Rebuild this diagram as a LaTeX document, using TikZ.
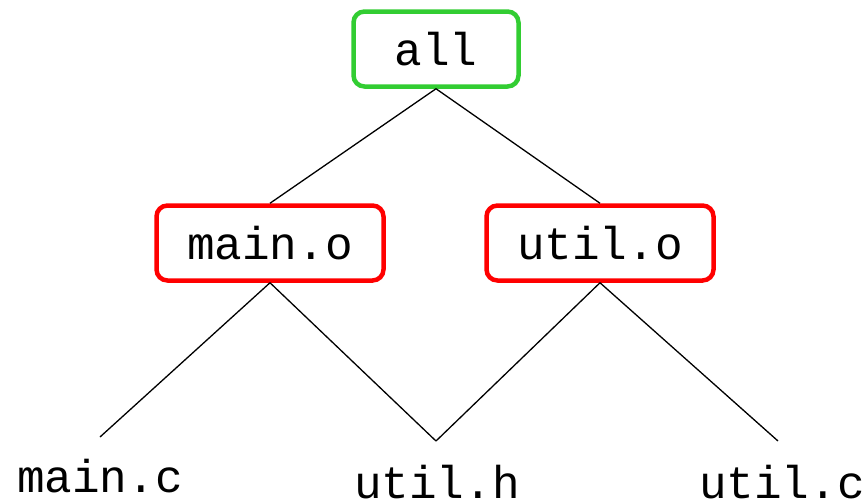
\documentclass[tikz,border=0pt]{standalone}
\usepackage{fontspec}
\setmonofont{Liberation Mono}
\definecolor{okgreen}{RGB}{50,205,50}
\definecolor{badred}{RGB}{255,0,0}
\begin{document}
\begin{tikzpicture}[x=1pt,y=-1pt,line width=1.3pt,every node/.style={font=\ttfamily\fontsize{46}{50}\selectfont,inner sep=0pt},
  target/.style={draw,line width=4.5pt,rounded corners=11pt,minimum width=165pt,minimum height=75pt},
  built/.style={target,draw=okgreen},
  stale/.style={target,draw=badred,minimum width=227pt}]
\path (0,0) rectangle (868,501);
\node[built] (all) at (436,49) {all};
\node[stale] (maino) at (270,243) {main.o};
\node[stale] (utilo) at (600,243) {util.o};
\coordinate (mainc) at (100,437);
\coordinate (utilh) at (436,441);
\coordinate (utilc) at (778,441);
\draw (all.south) -- (maino.north);
\draw (all.south) -- (utilo.north);
\draw (maino.south) -- (mainc);
\draw (maino.south) -- (utilh);
\draw (utilo.south) -- (utilh);
\draw (utilo.south) -- (utilc);
\node (mainc-l) at (100,476) {main.c};
\node (utilh-l) at (437,482) {util.h};
\node (utilc-l) at (782,482) {util.c};
\end{tikzpicture}
\end{document}
